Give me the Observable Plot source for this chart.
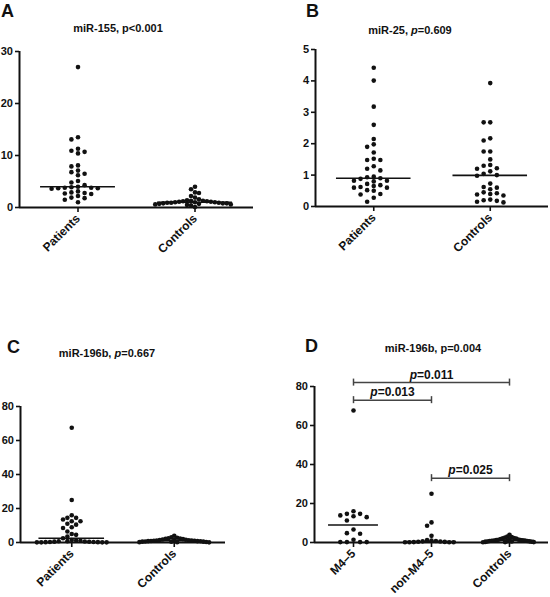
<!DOCTYPE html>
<html>
<head>
<meta charset="utf-8">
<script src="https://cdn.jsdelivr.net/npm/d3@7"></script>
<script src="https://cdn.jsdelivr.net/npm/@observablehq/plot@0.6"></script>
<style>
  html, body { margin: 0; padding: 0; background: #fff; }
  #fig { position: relative; width: 550px; height: 597px; overflow: hidden; font-family: "Liberation Sans", Arial, sans-serif; color: #111; }
  .letter { position: absolute; font-size: 18px; font-weight: bold; line-height: 1; }
  .title { position: absolute; font-size: 11px; font-weight: bold; line-height: 1; white-space: nowrap; transform: translateX(-50%); }
  .panel { position: absolute; }
</style>
</head>
<body>
<div id="fig"></div>
<script>
// ---------- data ----------
const catsPC = ["Patients", "Controls"];
const catsD = ["M4–5", "non-M4–5", "Controls"];

const mir155Patients = [27, 13.5, 13.1, 11.3, 10.9, 10.7, 10.4, 8.1, 7.9, 7.1, 6.8, 6.5, 6.2, 5.1, 4.8, 4.3, 4.0, 3.9, 3.8, 3.8, 3.7, 3.7, 3.6, 3.1, 2.9, 2.8, 2.7, 2.6, 2.2, 1.9, 1.8, 1.5, 1.0];
const mir155Controls = [4.0, 3.5, 2.9, 2.8, 2.2, 1.9, 1.6, 1.4, 1.3, 1.3, 1.2, 1.2, 1.1, 1.1, 1.0, 1.0, 1.0, 0.9, 0.9, 0.9, 0.8, 0.8, 0.8, 0.7, 0.7, 0.6, 0.6, 0.5, 0.4, 0.1];

const mir25Patients = [4.42, 4.01, 3.18, 2.6, 2.15, 1.98, 1.9, 1.72, 1.52, 1.48, 1.48, 1.28, 1.2, 1.15, 0.95, 0.93, 0.9, 0.88, 0.82, 0.8, 0.82, 0.72, 0.68, 0.65, 0.62, 0.6, 0.6, 0.5, 0.52, 0.4, 0.38, 0.28, 0.15];
const mir25Controls = [3.93, 2.68, 2.68, 2.17, 2.1, 1.75, 1.75, 1.5, 1.32, 1.3, 1.22, 1.2, 1.12, 1.04, 1.0, 0.98, 0.73, 0.62, 0.6, 0.55, 0.45, 0.42, 0.4, 0.38, 0.35, 0.22, 0.2, 0.18, 0.15, 0.13];

const mir196bPatients = [67.5, 25, 16, 14.5, 14.5, 13.5, 12.5, 12.5, 11, 10.5, 9, 8.5, 6.5, 5, 4.5, 3.5, 2.5, 1.5, 1.2, 1.0, 0.8, 0.7, 0.6, 0.5, 0.4, 0.3, 0.3, 0.2, 0.2, 0.1, 0.1, 0.1, 0.1];
const mir196bControls = [4.0, 3.0, 2.8, 2.5, 2.3, 2.2, 2.0, 1.8, 1.6, 1.5, 1.4, 1.3, 1.2, 1.1, 1.0, 1.0, 0.9, 0.8, 0.8, 0.7, 0.6, 0.5, 0.5, 0.4, 0.3, 0.2, 0.2, 0.1];
const mir196bM45 = [67.7, 16, 14.7, 14.7, 13.9, 13.5, 13, 11.3, 6.7, 4.8, 4.5, 1.4, 0.2, 0.2, 0.2, 0.2];
const mir196bNonM45 = [25, 10.3, 8.6, 3.4, 1.2, 1.0, 0.8, 0.6, 0.5, 0.4, 0.3, 0.2, 0.1, 0.1, 0.1, 0.1];

const ticks155 = [0, 10, 20, 30];
const ticks25 = [0, 1, 2, 3, 4, 5];
const ticks196 = [0, 20, 40, 60, 80];

const bracketFrom = [1, 1, 2];
const bracketTo = [3, 2, 3];
const bracketY = [82, 73, 33];
const bracketLabel = ["p=0.011", "p=0.013", "p=0.025"];

// ---------- layout helpers ----------
const fig = document.getElementById("fig");
const FONT = '"Liberation Sans", Arial, sans-serif';

function addDiv(cls, html, left, top) {
  const d = document.createElement("div");
  d.className = cls;
  d.innerHTML = html;
  d.style.left = left + "px";
  d.style.top = top + "px";
  fig.appendChild(d);
}

// GraphPad-style scatter: dots arranged in lanes so that they don't overlap
function swarm(values, cat, pyOf, pxPerX, maxHalf) {
  const laneW = 6.6, gap = 4.4;
  const pts = values.map(v => ({v, py: pyOf(v)})).sort((a, b) => b.v - a.v);
  const placed = [];
  for (const p of pts) {
    for (let k = 0; ; k++) {
      const L = k === 0 ? 0 : (k % 2 ? -Math.ceil(k / 2) : k / 2);
      if (!placed.some(q => q.lane === L && Math.abs(q.py - p.py) < gap)) { p.lane = L; placed.push(p); break; }
    }
  }
  const maxLane = d3.max(placed, p => Math.abs(p.lane)) || 0;
  const s = maxLane * laneW > maxHalf ? maxHalf / maxLane : laneW;
  return placed.map(p => ({cat, value: p.v, x: cat + p.lane * s / pxPerX}));
}

function panel(cfg) {
  const {groups, cats, ticks, ymax, left, top, width, height, ml, mr, mt, mb, extra = []} = cfg;
  const n = cats.length;
  const innerW = width - ml - mr, innerH = height - mt - mb;
  const pxPerX = innerW / n;
  const pyOf = v => mt + (1 - v / ymax) * innerH;
  const dots = groups.flatMap((g, i) => swarm(g, i + 1, pyOf, pxPerX, 0.34 * pxPerX));
  const medians = groups.map((g, i) => ({cat: i + 1, m: d3.median(g)}));
  const plot = Plot.plot({
    width, height,
    marginLeft: ml, marginRight: mr, marginTop: mt, marginBottom: mb,
    style: {fontFamily: FONT, fontSize: "12px", fontWeight: "bold", color: "#111", background: "transparent", overflow: "visible"},
    x: {domain: [0.5, n + 0.5]},
    y: {domain: [0, ymax]},
    marks: [
      Plot.axisY({ticks, tickFormat: d => String(d), tickSize: 4, tickPadding: 2.5, strokeWidth: 1.6, label: null, fontSize: 11, fontWeight: "bold"}),
      Plot.axisX({ticks: d3.range(1, n + 1), tickFormat: i => cats[i - 1], tickRotate: -45, tickSize: 5, tickPadding: 4, strokeWidth: 1.6, label: null, fontSize: 12, fontWeight: "bold"}),
      Plot.ruleX([0.5], {y1: 0, y2: ymax, stroke: "#111", strokeWidth: 2}),
      Plot.ruleY([0], {x1: 0.5, x2: n + 0.5, stroke: "#111", strokeWidth: 2}),
      Plot.dot(dots, {x: "x", y: "value", r: 2.3, fill: "#111", stroke: "none"}),
      Plot.ruleY(medians, {y: "m", x1: d => d.cat - 0.32, x2: d => d.cat + 0.32, stroke: "#111", strokeWidth: 1.6}),
      ...extra
    ]
  });
  plot.classList.add("panel");
  plot.style.left = left + "px";
  plot.style.top = top + "px";
  fig.appendChild(plot);
  return plot;
}

// ---------- panels ----------
panel({groups: [mir155Patients, mir155Controls], cats: catsPC, ticks: ticks155, ymax: 30,
  left: 0, top: 0, width: 275, height: 300, ml: 19, mr: 22, mt: 51, mb: 93});

panel({groups: [mir25Patients, mir25Controls], cats: catsPC, ticks: ticks25, ymax: 5,
  left: 275, top: 0, width: 275, height: 300, ml: 40, mr: 2, mt: 49, mb: 94});

panel({groups: [mir196bPatients, mir196bControls], cats: catsPC, ticks: ticks196, ymax: 80,
  left: 0, top: 300, width: 275, height: 297, ml: 20, mr: 50, mt: 106, mb: 55});

const brackets = bracketY.map((y, i) => ({from: bracketFrom[i], to: bracketTo[i], y, label: bracketLabel[i]}));
const capH = 1.8;
const dPlot = panel({groups: [mir196bM45, mir196bNonM45, mir196bControls], cats: catsD, ticks: ticks196, ymax: 80,
  left: 275, top: 300, width: 275, height: 297, ml: 39, mr: 2, mt: 86, mb: 55,
  extra: [
    Plot.ruleY(brackets, {y: "y", x1: "from", x2: "to", stroke: "#444", strokeWidth: 1.5}),
    Plot.ruleX(brackets, {x: "from", y1: d => d.y - capH, y2: d => d.y + capH, stroke: "#444", strokeWidth: 1.5}),
    Plot.ruleX(brackets, {x: "to", y1: d => d.y - capH, y2: d => d.y + capH, stroke: "#444", strokeWidth: 1.5}),
    Plot.text(brackets, {x: d => (d.from + d.to) / 2, y: "y", text: "label", dy: -4, lineAnchor: "bottom", fontSize: 12, fontWeight: "bold", fill: "#111"})
  ]});

// italic "p" in bracket labels
dPlot.querySelectorAll("text").forEach(t => {
  const s = t.textContent;
  if (s.startsWith("p=")) {
    t.textContent = "";
    const NS = "http://www.w3.org/2000/svg";
    const a = document.createElementNS(NS, "tspan");
    a.setAttribute("font-style", "italic");
    a.textContent = "p";
    const b = document.createElementNS(NS, "tspan");
    b.textContent = s.slice(1);
    t.appendChild(a); t.appendChild(b);
  }
});

// ---------- letters and titles ----------
addDiv("letter", "A", 1, 2);
addDiv("letter", "B", 306, 2);
addDiv("letter", "C", 7, 338);
addDiv("letter", "D", 305, 337);
addDiv("title", "miR-155, p&lt;0.001", 118, 23);
addDiv("title", "miR-25, <i>p</i>=0.609", 410, 25);
addDiv("title", "miR-196b, <i>p</i>=0.667", 107, 348);
addDiv("title", "miR-196b, p=0.004", 433, 343);
</script>
</body>
</html>
